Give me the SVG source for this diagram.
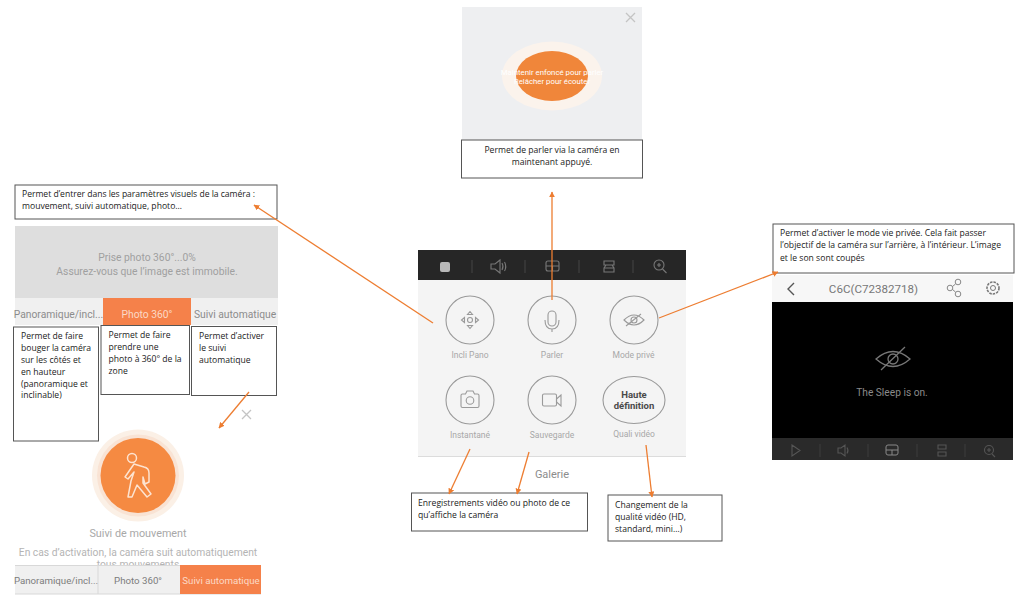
<svg xmlns="http://www.w3.org/2000/svg" width="1024" height="599" viewBox="0 0 1024 599">
<style>
text{font-family:Roboto,"Liberation Sans",sans-serif}
.note rect{fill:#fff;stroke:#555;stroke-width:1}
.note text{font-family:"Open Sans","Noto Sans",sans-serif;font-size:8.6px;fill:#222}
.conn line{stroke:#ed7d31;stroke-width:1.3;fill:none}
.tab{font-size:10.300px;fill:#8c8c8c;text-anchor:middle}
.tabw{font-size:10.300px;fill:#fbd9c6;text-anchor:middle}
.tabs{font-size:9.700px;fill:#7c7c7c;text-anchor:middle}
.cap{font-size:8.500px;fill:#a8a8a8;text-anchor:middle}
.ring{fill:none;stroke:#9a9a9a;stroke-width:1.1}
.ico{fill:none;stroke:#9a9a9a;stroke-width:1.1}
.bar{fill:none;stroke:#777;stroke-width:1.1}
.dim{fill:none;stroke:#555;stroke-width:1.1}
.x{stroke:#c4c4c4;stroke-width:1.3;fill:none}
</style>
<defs>
<marker id="ah" viewBox="0 0 10 10" refX="9" refY="5" markerWidth="6" markerHeight="6" orient="auto" markerUnits="userSpaceOnUse"><path d="M0 0L10 5L0 10z" fill="#ed7d31"/></marker>
</defs>

<g id="talk-panel">
<rect x="462" y="7" width="180" height="133" fill="#eeeff1"/>
<path class="x" d="M626 13l9 9M635 13l-9 9"/>
<ellipse cx="552" cy="76" rx="50" ry="34.500" fill="#fbf3ec"/>
<ellipse cx="552" cy="76" rx="36" ry="25" fill="#f0863a"/>
<text x="552" y="75" font-size="7.800" fill="#fff" text-anchor="middle">Maintenir enfoncé pour parler</text>
<text x="552" y="84" font-size="7.800" fill="#fff" text-anchor="middle">Relâcher pour écouter</text>
</g>
<g id="note-talk" class="note">
<rect x="461.500" y="140" width="181" height="38"/>
<text x="552" y="153" text-anchor="middle">Permet de parler via la caméra en</text>
<text x="552" y="165" text-anchor="middle">maintenant appuyé.</text>
</g>

<g id="note-visual" class="note">
<rect x="15" y="185" width="262" height="34"/>
<text x="22" y="197" textLength="233">Permet d’entrer dans les paramètres visuels de la caméra :</text>
<text x="22" y="209">mouvement, suivi automatique, photo…</text>
</g>

<g id="photo-panel">
<rect x="15" y="226" width="263" height="72" fill="#dedede"/>
<text x="147" y="261" font-size="10.300" fill="#a0a0a0" text-anchor="middle">Prise photo 360°...0%</text>
<text x="147" y="275" font-size="10.300" fill="#a0a0a0" text-anchor="middle">Assurez-vous que l’image est immobile.</text>
<rect x="15" y="298" width="263" height="27" fill="#f0f0f0"/>
<rect x="103" y="298" width="88" height="27" fill="#f5814a"/>
<text class="tab" x="58.500" y="318">Panoramique/incl...</text>
<text class="tabw" x="147" y="318">Photo 360°</text>
<text class="tab" x="235" y="318">Suivi automatique</text>
</g>

<g id="note-pan" class="note">
<rect x="13.500" y="327" width="85" height="114"/>
<text x="21" y="339">Permet de faire</text>
<text x="21" y="351">bouger la caméra</text>
<text x="21" y="363">sur les côtés et</text>
<text x="21" y="375">en hauteur</text>
<text x="21" y="387">(panoramique et</text>
<text x="21" y="398">inclinable)</text>
</g>
<g id="note-photo" class="note">
<rect x="101" y="325.500" width="88.500" height="69"/>
<text x="108.500" y="338">Permet de faire</text>
<text x="108.500" y="350">prendre une</text>
<text x="108.500" y="362">photo à 360° de la</text>
<text x="108.500" y="374">zone</text>
</g>
<g id="note-track" class="note">
<rect x="191.500" y="326.500" width="85" height="69"/>
<text x="199" y="339">Permet d’activer</text>
<text x="199" y="351">le suivi</text>
<text x="199" y="363">automatique</text>
</g>

<g id="track-panel">
<path class="x" d="M242 410l9 9M251 410l-9 9"/>
<circle cx="138" cy="475.500" r="46" fill="#fbf0e6"/>
<circle cx="138" cy="475.500" r="41" fill="#f9e3d4"/>
<circle cx="138" cy="475.500" r="37.500" fill="#f58a42"/>
<g fill="none" stroke="#fde3d0" stroke-width="1.500" stroke-linejoin="round" stroke-linecap="round">
<circle cx="132" cy="458" r="4.500"/>
<path d="M134 464l10 3q5 1 5 6v9l-4 2-2-7v6l8 11-4 3-10-12-5 12h-4l3-16 3-9-6 7-3-2 9-13z"/>
</g>
<text x="138" y="537" font-size="10.800" fill="#a8a8a8" text-anchor="middle">Suivi de mouvement</text>
<text x="138" y="556" font-size="10.300" fill="#b4b4b4" text-anchor="middle">En cas d’activation, la caméra suit automatiquement</text>
<text x="138" y="568" font-size="10.300" fill="#b4b4b4" text-anchor="middle">tous mouvements</text>
<rect x="15" y="565" width="246" height="29" fill="#f0f0f0"/>
<path d="M15 565.500H261M15 594H261M98 565V594" stroke="#d8d8d8" stroke-width="1" fill="none"/>
<rect x="180" y="565" width="81" height="29" fill="#f5814a"/>
<text class="tabs" x="56" y="584">Panoramique/incl...</text>
<text class="tabs" x="138" y="584">Photo 360°</text>
<text class="tabs" x="221" y="584" style="fill:#fbd9c6">Suivi automatique</text>
</g>

<g id="control-panel">
<rect x="418" y="280" width="268" height="176" fill="#f4f4f4"/>
<path d="M418 456.500H686" stroke="#dcdcdc" stroke-width="1"/>
<rect x="418" y="250" width="268" height="30" fill="#262626"/>
<rect x="440" y="262" width="10" height="10" rx="2" fill="#b8b8b8"/>
<path d="M472 260v13M525 260v13M579 260v13M633 260v13" stroke="#444" stroke-width="1"/>
<path class="bar" d="M491 264h4l5-4v13l-5-4h-4zM502 263q2 3.500 0 7M504.500 262q2.500 4.500 0 9"/>
<rect class="bar" x="546" y="261" width="13" height="10" rx="2"/><path class="bar" d="M546 266h13M552.500 266v5"/>
<path class="bar" d="M604 261h10v4h-10zM604 268h10v4h-10zM606 265l-2 3M612 265l2 3"/>
<circle class="bar" cx="659" cy="265" r="5"/><path class="bar" d="M662.500 269l4 4M657 265h4M659 263v4"/>

<circle class="ring" cx="470" cy="320" r="24"/>
<circle class="ico" cx="470" cy="320" r="2.500"/>
<path class="ico" d="M470 311.500l2.500 3h-5zM470 328.500l2.500-3h-5zM461.500 320l3 2.500v-5zM478.500 320l-3 2.500v-5z"/>
<circle class="ring" cx="552" cy="320" r="24"/>
<rect class="ico" x="548" y="311" width="8" height="15" rx="4"/><path class="ico" d="M545 320q0 9 7 9t7-9M552 329v3"/>
<circle class="ring" cx="634" cy="320" r="24"/>
<path class="ico" d="M624 320q10-10 20 0q-10 10-20 0zM626 326l15-12"/><circle class="ico" cx="634" cy="320" r="3"/>
<text class="cap" x="470" y="358">Incli Pano</text>
<text class="cap" x="552" y="358">Parler</text>
<text class="cap" x="633.500" y="358">Mode privé</text>

<circle class="ring" cx="470" cy="400" r="24"/>
<path class="ico" d="M461 395.500q0-1.500 1.500-1.500h3l1.500-3h6l1.500 3h3q1.500 0 1.500 1.500v10.500q0 1.500-1.500 1.500h-15q-1.500 0-1.500-1.500z"/><circle class="ico" cx="470" cy="400.500" r="3.800"/>
<circle class="ring" cx="552" cy="400" r="24"/>
<rect class="ico" x="542.500" y="394" width="14" height="12" rx="1.500"/><path class="ico" d="M556.500 399l4.500-4v11l-4.500-4z"/>
<ellipse class="ring" cx="634" cy="400" rx="31" ry="23.500"/>
<text x="634" y="398" font-size="9.500" font-weight="700" fill="#4a4a4a" text-anchor="middle">Haute</text>
<text x="634" y="409" font-size="9.500" font-weight="700" fill="#4a4a4a" text-anchor="middle">définition</text>
<text class="cap" x="470" y="438">Instantané</text>
<text class="cap" x="552" y="438">Sauvegarde</text>
<text class="cap" x="634" y="437">Quali vidéo</text>
<text x="552" y="478" font-size="11" fill="#8c8c8c" text-anchor="middle">Galerie</text>
</g>

<g id="note-record" class="note">
<rect x="411.500" y="493" width="176" height="38"/>
<text x="418" y="506">Enregistrements vidéo ou photo de ce</text>
<text x="418" y="518">qu’affiche la caméra</text>
</g>
<g id="note-quality" class="note">
<rect x="608" y="495" width="114" height="46"/>
<text x="615" y="508">Changement de la</text>
<text x="615" y="520">qualité vidéo (HD,</text>
<text x="615" y="532">standard, mini…)</text>
</g>

<g id="note-private" class="note">
<rect x="773" y="224" width="241" height="49"/>
<text x="780" y="236">Permet d’activer le mode vie privée. Cela fait passer</text>
<text x="780" y="248" textLength="221">l’objectif de la caméra sur l’arrière, à l’intérieur. L’image</text>
<text x="780" y="261">et le son sont coupés</text>
</g>

<g id="sleep-panel">
<rect x="772" y="275" width="241" height="27" fill="#f7f7f7"/>
<path d="M794 283l-6 6 6 6" fill="none" stroke="#555" stroke-width="1.400"/>
<text x="873.500" y="293" font-size="11.600" fill="#777" text-anchor="middle">C6C(C72382718)</text>
<circle cx="950" cy="288" r="2.800" fill="none" stroke="#888"/><circle cx="958" cy="282" r="2.800" fill="none" stroke="#888"/><circle cx="958" cy="294" r="2.800" fill="none" stroke="#888"/>
<path d="M952.500 286.500l3-2.500M952.500 289.500l3 2.500" fill="none" stroke="#888"/>
<circle cx="993" cy="288" r="6" fill="none" stroke="#777" stroke-width="1.600" stroke-dasharray="2.500 1"/><circle cx="993" cy="288" r="2.500" fill="none" stroke="#777"/>
<rect x="772" y="302" width="241" height="136" fill="#000"/>
<path d="M876 359q17-15 34 0q-17 15-34 0zM881 370l24-23" fill="none" stroke="#777" stroke-width="1.300"/>
<circle cx="893" cy="359" r="5" fill="none" stroke="#777" stroke-width="1.300"/>
<text x="892" y="396" font-size="10.200" fill="#8a8a8a" text-anchor="middle">The Sleep is on.</text>
<rect x="772" y="438" width="241" height="22" fill="#2a2a2a"/>
<path d="M820 444v13M868 444v13M917 444v13M965 444v13" stroke="#3c3c3c"/>
<path class="dim" d="M792 445l8 5.500-8 5.500zM838 448h3l4-3v11l-4-3h-3zM847 447.500q2 3 0 6"/>
<rect x="886" y="445" width="12" height="10" rx="2" fill="none" stroke="#888"/><path d="M886 450h12M892 450v5" stroke="#888" fill="none"/>
<path class="dim" d="M938 445h8v4h-8zM938 452h8v4h-8z"/>
<circle class="dim" cx="989" cy="450" r="4.500"/><path class="dim" d="M992 454l3 3M987 450h4M989 448v4"/>
</g>

<g id="connectors" class="conn">
<line x1="433" y1="323" x2="254" y2="205" marker-end="url(#ah)"/>
<line x1="552" y1="300" x2="552" y2="192" marker-end="url(#ah)"/>
<line x1="659" y1="318" x2="778" y2="272" marker-end="url(#ah)"/>
<line x1="249" y1="392" x2="219" y2="428" marker-end="url(#ah)"/>
<line x1="470" y1="449" x2="449" y2="494" marker-end="url(#ah)"/>
<line x1="529" y1="452" x2="517" y2="494" marker-end="url(#ah)"/>
<line x1="646" y1="445" x2="652" y2="497" marker-end="url(#ah)"/>
</g>
</svg>
